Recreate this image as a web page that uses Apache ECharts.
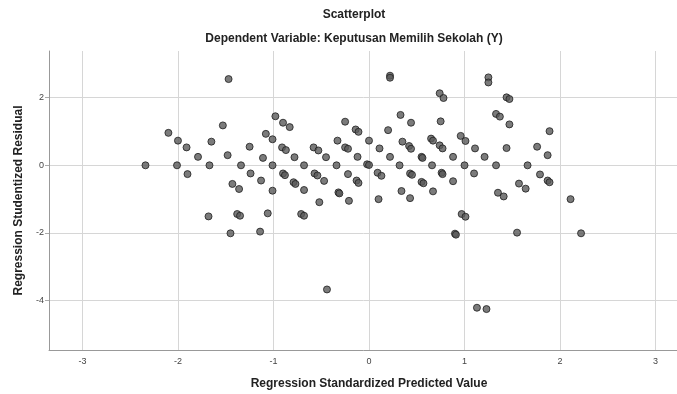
<!DOCTYPE html>
<html>
<head>
<meta charset="utf-8">
<script src="https://cdn.jsdelivr.net/npm/echarts@6/dist/echarts.min.js"></script>
<style>
  html, body { margin: 0; padding: 0; background: #fff; }
  #chart { width: 677px; height: 394px; }
</style>
</head>
<body>
<div id="chart"></div>
<script>
// values: standardized predicted value (x), studentized residual (y)
var predicted = [
  -1.47, -2.10, -1.53, -2.00, -1.65, -1.91, -1.25, -1.79, -1.48, -2.34,
  -2.01, -1.67, -1.34, -1.90, -1.24, -1.13, -1.43, -1.36, -0.98, -0.90,
  -0.83, -1.08, -1.01, -0.91, -0.87, -1.11, -0.78, -1.01, -0.68, -0.58,
  -0.53, -0.45, -0.34, -0.25, -0.14, -0.11, -0.33, -0.25, -0.22, -0.12,
  0.00, -0.02, 0.00, -0.90, -0.88, -0.79, -0.77, -1.01, -0.68, -0.57,
  -0.54, -0.47, -0.52, -0.22, -0.13, -0.11, -0.32, -0.31, -0.21, 0.10,
  0.22, 0.22, 0.74, 0.78, 1.25, 1.25, 1.33, 1.37, 0.33, 0.44,
  0.75, 0.20, 0.35, 0.65, 0.67, 0.96, 1.01, 0.11, 0.42, 0.44,
  0.74, 0.77, 1.11, 0.22, 0.55, 0.56, 0.88, 1.21, 0.32, 0.66,
  1.00, 1.33, 0.09, 0.13, 0.43, 0.45, 0.76, 0.77, 1.10, 0.55,
  0.57, 0.88, 0.34, 0.67, 0.43, 1.35, 1.44, 1.47, 1.47, 1.89,
  1.44, 1.76, 1.87, 1.66, 1.79, 1.87, 1.89, 1.57, 1.64, 1.41,
  2.11, -1.68, -1.38, -1.35, -1.06, -0.71, -0.68, -1.45, -1.14, -0.44,
  0.97, 1.01, 0.90, 0.91, 1.55, 2.22, 1.13, 1.23
];
var residual = [
  2.55, 0.96, 1.18, 0.73, 0.70, 0.53, 0.55, 0.25, 0.30, 0.00,
  0.00, 0.00, 0.00, -0.26, -0.24, -0.45, -0.55, -0.70, 1.45, 1.26,
  1.13, 0.93, 0.77, 0.53, 0.45, 0.22, 0.24, 0.00, 0.00, 0.53,
  0.44, 0.24, 0.00, 1.29, 1.06, 0.99, 0.73, 0.53, 0.49, 0.25,
  0.73, 0.03, 0.01, -0.24, -0.29, -0.50, -0.55, -0.75, -0.73, -0.24,
  -0.30, -0.46, -1.09, -0.26, -0.45, -0.52, -0.80, -0.83, -1.05, -1.00,
  2.65, 2.59, 2.13, 1.99, 2.60, 2.45, 1.52, 1.44, 1.49, 1.26,
  1.30, 1.04, 0.70, 0.79, 0.73, 0.87, 0.72, 0.50, 0.57, 0.49,
  0.59, 0.50, 0.50, 0.25, 0.25, 0.22, 0.25, 0.25, 0.00, 0.00,
  0.00, 0.00, -0.22, -0.31, -0.24, -0.28, -0.22, -0.26, -0.24, -0.49,
  -0.53, -0.47, -0.76, -0.77, -0.97, -0.81, 2.01, 1.96, 1.21, 1.01,
  0.51, 0.55, 0.30, 0.00, -0.27, -0.45, -0.50, -0.54, -0.69, -0.92,
  -1.00, -1.51, -1.44, -1.49, -1.42, -1.44, -1.49, -2.01, -1.96, -3.67,
  -1.44, -1.52, -2.02, -2.05, -1.99, -2.01, -4.21, -4.25
];
var xTicks = [-3, -2, -1, 0, 1, 2, 3];
var yTicks = [-4, -2, 0, 2];

var points = [];
for (var i = 0; i < predicted.length; i++) {
  points.push([predicted[i], residual[i]]);
}

var myChart = echarts.init(document.getElementById('chart'));
var font = 'Liberation Sans, Arial, sans-serif';
var option = {
  animation: false,
  title: [
    {
      text: 'Scatterplot',
      left: 349,
      top: 4,
      textAlign: 'center',
      textStyle: { fontFamily: font, fontSize: 12, fontWeight: 'bold', color: '#222' }
    },
    {
      text: 'Dependent Variable: Keputusan Memilih Sekolah (Y)',
      left: 349,
      top: 28,
      textAlign: 'center',
      textStyle: { fontFamily: font, fontSize: 12, fontWeight: 'bold', color: '#222' }
    }
  ],
  grid: {
    left: 49,
    top: 51,
    width: 640,
    height: 299,
    containLabel: false,
    outerBoundsMode: 'none'
  },
  xAxis: {
    type: 'value',
    min: -3.35,
    max: 3.35,
    name: 'Regression Standardized Predicted Value',
    nameLocation: 'middle',
    nameGap: 28,
    nameTextStyle: { fontFamily: font, fontSize: 12, fontWeight: 'bold', color: '#222' },
    axisLine: { show: true, onZero: false, lineStyle: { color: '#999', width: 1 } },
    axisTick: { show: false, customValues: xTicks },
    axisLabel: {
      customValues: xTicks,
      margin: 7,
      fontFamily: font,
      fontSize: 9,
      color: '#444'
    },
    splitLine: { show: true, lineStyle: { color: '#d6d6d6', width: 1 } }
  },
  yAxis: {
    type: 'value',
    min: -5.46,
    max: 3.38,
    name: 'Regression Studentized Residual',
    nameLocation: 'middle',
    nameGap: 23,
    nameTextStyle: { fontFamily: font, fontSize: 12, fontWeight: 'bold', color: '#222' },
    axisLine: { show: true, onZero: false, lineStyle: { color: '#999', width: 1 } },
    axisTick: { show: true, length: 4, customValues: yTicks, lineStyle: { color: '#aaa' } },
    axisLabel: {
      customValues: yTicks,
      margin: 5,
      fontFamily: font,
      fontSize: 9,
      color: '#444'
    },
    splitLine: { show: true, lineStyle: { color: '#d6d6d6', width: 1 } }
  },
  series: [
    {
      type: 'scatter',
      data: points,
      symbol: 'circle',
      symbolSize: 7,
      itemStyle: {
        color: '#5a5a5a',
        borderColor: '#1e1e1e',
        borderWidth: 1
      }
    }
  ]
};
myChart.setOption(option);
</script>
</body>
</html>
